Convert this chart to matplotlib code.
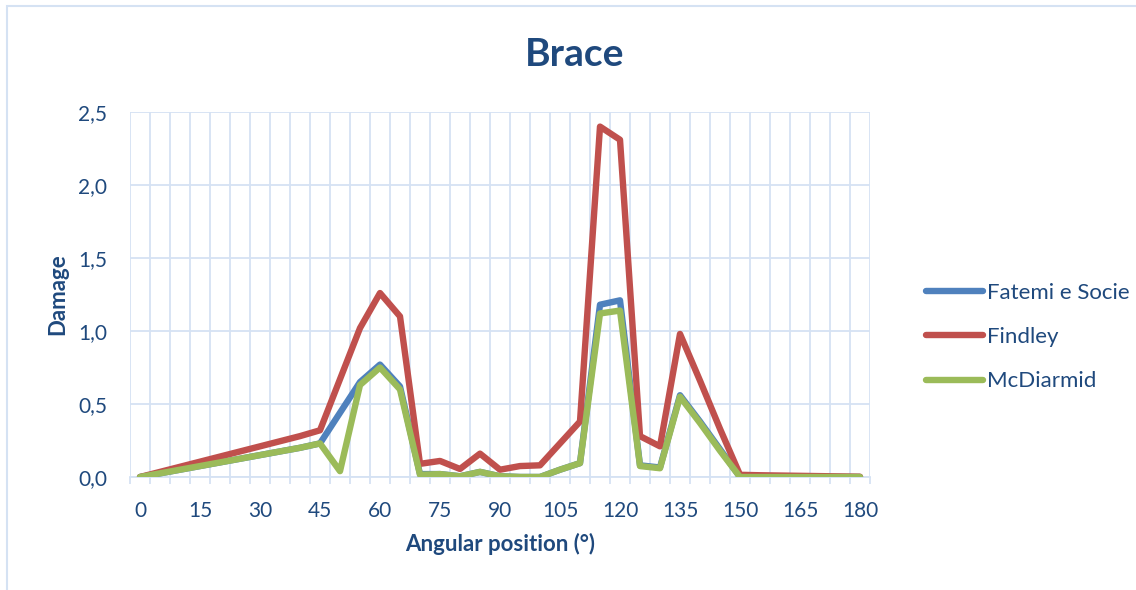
import matplotlib
matplotlib.use("Agg")
import matplotlib.pyplot as plt
from matplotlib.ticker import FuncFormatter
from matplotlib.patches import Rectangle

# angular positions, every 5 degrees
angles = list(range(0, 185, 5))

fatemi = [0.0, 0.025, 0.05, 0.075, 0.10, 0.125, 0.15, 0.175, 0.20, 0.23,
          0.44, 0.65, 0.77, 0.62, 0.02, 0.02, 0.005, 0.035, 0.005, 0.0,
          0.0, 0.05, 0.095, 1.18, 1.21, 0.08, 0.065, 0.56, 0.38, 0.19,
          0.0, 0.0, 0.0, 0.0, 0.0, 0.0, 0.0]
findley = [0.0, 0.035, 0.07, 0.105, 0.14, 0.175, 0.21, 0.245, 0.28, 0.32,
           0.67, 1.02, 1.26, 1.10, 0.09, 0.11, 0.055, 0.16, 0.05, 0.075,
           0.08, 0.23, 0.38, 2.40, 2.31, 0.28, 0.21, 0.98, 0.66, 0.33,
           0.015, 0.012, 0.01, 0.008, 0.006, 0.004, 0.002]
mcdiarmid = [0.0, 0.025, 0.05, 0.075, 0.10, 0.125, 0.15, 0.175, 0.20, 0.23,
             0.04, 0.63, 0.75, 0.60, 0.015, 0.02, 0.005, 0.035, 0.005, 0.0,
             0.0, 0.05, 0.095, 1.12, 1.14, 0.075, 0.06, 0.55, 0.37, 0.18,
             0.0, 0.0, 0.0, 0.0, 0.0, 0.0, 0.0]

x_labels = list(range(0, 181, 15))
y_ticks = [0.0, 0.5, 1.0, 1.5, 2.0, 2.5]

text_col = "#1F497D"
grid_col = "#D5E2F3"

plt.rcParams['font.family'] = ['Lato', 'DejaVu Sans']

fig = plt.figure(figsize=(11.36, 5.90), dpi=100)
ax = fig.add_axes([130 / 1136, 1 - 477 / 590, 740 / 1136, 365 / 590])

# outer chart border (cut off on right/bottom in the reference)
fig.patches.append(Rectangle((7 / 1136, -0.05), 1.2, 1 - 6 / 590 + 0.05,
                             transform=fig.transFigure, fill=False,
                             edgecolor=grid_col, linewidth=1.5))

ax.plot(angles, fatemi, color="#4F81BD", lw=4.6, solid_capstyle='round', label="Fatemi e Socie", zorder=3)
ax.plot(angles, findley, color="#C0504D", lw=4.6, solid_capstyle='round', label="Findley", zorder=4)
ax.plot(angles, mcdiarmid, color="#9BBB59", lw=4.6, solid_capstyle='round', label="McDiarmid", zorder=5)

ax.set_xlim(-2.5, 182.5)
ax.set_ylim(0, 2.5)

# category boundaries as vertical gridlines and tick marks
bounds = [a - 2.5 for a in angles] + [182.5]
ax.set_xticks(bounds, minor=True)
ax.set_xticks(x_labels)
ax.grid(True, which='minor', axis='x', color=grid_col, lw=1.3)
ax.set_yticks(y_ticks)
ax.grid(True, which='major', axis='y', color=grid_col, lw=1.3)
ax.set_axisbelow(True)
ax.yaxis.set_major_formatter(FuncFormatter(lambda v, p: f"{v:.1f}".replace('.', ',')))

ax.tick_params(axis='x', which='minor', length=5, width=1.3, color=grid_col, direction='out')
ax.tick_params(axis='x', which='major', length=0, pad=17, labelsize=15, labelcolor=text_col)
ax.tick_params(axis='y', length=0, pad=16.5, labelsize=15, labelcolor=text_col)

for side in ['top', 'right', 'left']:
    ax.spines[side].set_visible(False)
ax.spines['bottom'].set_color(grid_col)
ax.spines['bottom'].set_linewidth(1.3)

ax.set_xlabel("Angular position (°)", fontsize=16, fontweight='bold', color=text_col, labelpad=9)
ax.set_ylabel("Damage", fontsize=16, fontweight='bold', color=text_col, labelpad=7)
fig.text(575 / 1136, 1 - 55 / 590, "Brace", fontsize=28, fontweight='bold',
         color=text_col, ha='center', va='center')

leg = fig.legend(loc='center left', bbox_to_anchor=(906 / 1136, 1 - 337 / 590),
                 frameon=False, fontsize=16, handlelength=2.55, labelspacing=1.1,
                 handletextpad=0.2)
for t in leg.get_texts():
    t.set_color(text_col)

fig.savefig("out.png", dpi=100)
